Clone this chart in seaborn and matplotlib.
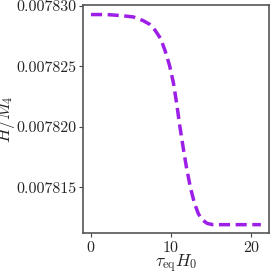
import numpy as np
import pandas as pd
import matplotlib
matplotlib.use("Agg")
import matplotlib.pyplot as plt
import seaborn as sns
from matplotlib.ticker import FormatStrFormatter

# values
tau_H0 = [0.0, 2.0, 4.0, 5.3, 6.5, 7.3, 8.0, 8.7, 9.25, 9.8, 10.3, 10.7, 11.1,
          11.5, 11.9, 12.4, 12.9, 13.4, 13.9, 14.5, 15.2, 16.5, 18.0, 20.0, 21.2]
H_over_M4 = [0.0078293, 0.0078293, 0.0078292, 0.0078291, 0.0078288, 0.0078285,
             0.0078280, 0.0078273, 0.0078263, 0.0078251, 0.0078236, 0.0078219,
             0.0078200, 0.0078183, 0.0078167, 0.0078150, 0.0078137, 0.0078128,
             0.0078123, 0.0078120, 0.0078119, 0.0078119, 0.0078119, 0.0078119,
             0.0078119]
y_ticks = [0.007815, 0.007820, 0.007825, 0.007830]
x_ticks = [0, 10, 20]

df = pd.DataFrame({"tau": tau_H0, "H": H_over_M4})

sns.set_style("ticks")
plt.rcParams["font.family"] = ["cmr10", "DejaVu Serif"]
plt.rcParams["mathtext.fontset"] = "cm"
plt.rcParams["axes.formatter.use_mathtext"] = True

fig, ax = plt.subplots(figsize=(2.72, 2.72), dpi=100)
sns.lineplot(data=df, x="tau", y="H", ax=ax, color="#9d1ee6",
             linewidth=2.5, linestyle=(0, (3.2, 1.6)))

ax.set_xlim(-1, 22.25)
ax.set_ylim(0.0078112, 0.0078301)
ax.set_xticks(x_ticks)
ax.set_yticks(y_ticks)
ax.yaxis.set_major_formatter(FormatStrFormatter("%.6f"))
ax.tick_params(labelsize=11.5, length=3, width=0.8, color="#444444", pad=2)
ax.set_xlabel(r"$\tau_{\rm eq} H_0$", fontsize=12.5)
ax.set_ylabel(r"$H/M_4$", fontsize=12.5)
ax.xaxis.set_label_coords(0.5, -0.085)
ax.yaxis.set_label_coords(-0.355, 0.5)
for s in ax.spines.values():
    s.set_color("#555555")
    s.set_linewidth(1.2)

fig.subplots_adjust(left=0.305, right=0.99, top=0.982, bottom=0.143)
plt.savefig("out.png", dpi=100)
